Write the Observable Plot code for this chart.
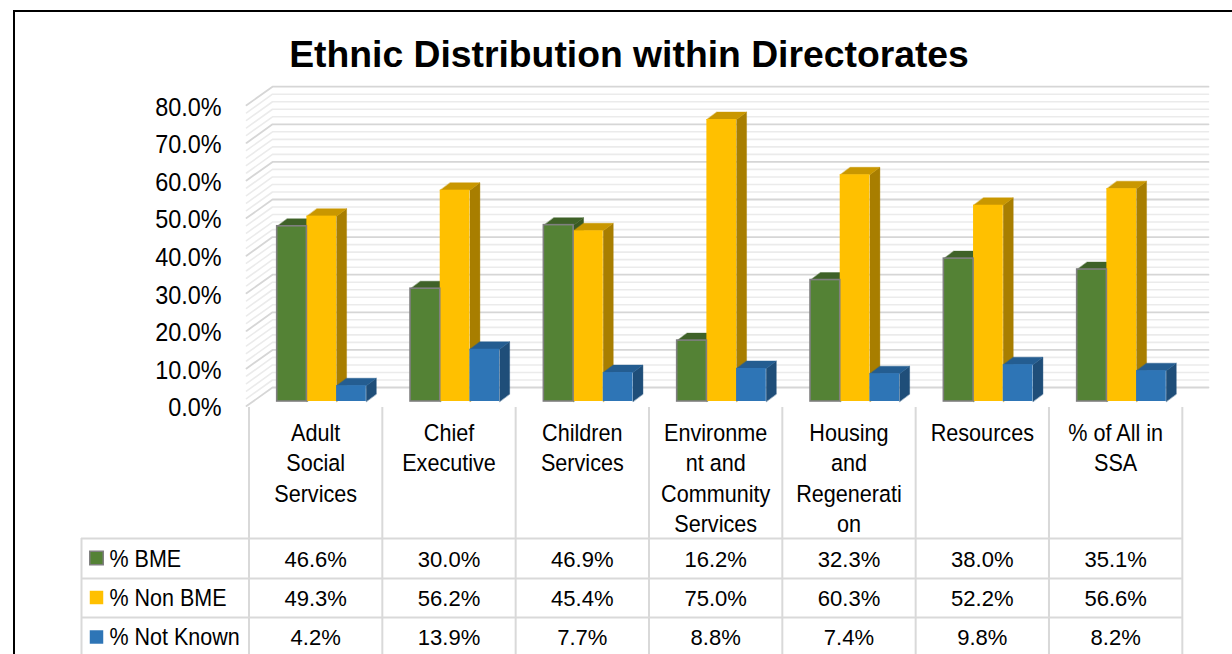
<!DOCTYPE html>
<html><head><meta charset="utf-8">
<script src="https://cdn.jsdelivr.net/npm/d3@7"></script>
<script src="https://cdn.jsdelivr.net/npm/@observablehq/plot@0.6"></script>
<style>
html,body{margin:0;padding:0;background:#fff;}
#wrap{position:relative;width:1232px;height:654px;overflow:hidden;font-family:"Liberation Sans",Arial,sans-serif;}
#frame{position:absolute;left:13px;top:10px;width:1300px;height:720px;border:2px solid #000;box-sizing:border-box;}
#title{position:absolute;left:0;top:36px;width:1258px;text-align:center;font-weight:bold;font-size:37.3px;line-height:37px;color:#000;}
#chart{position:absolute;left:0;top:80px;}
</style></head>
<body>
<div id="wrap">
  <div id="frame"></div>
  <div id="title">Ethnic Distribution within Directorates</div>
  <div id="chart"></div>
</div>
<script>
// ---------- data ----------
const categories = ["Adult Social Services","Chief Executive","Children Services","Environment and Community Services","Housing and Regeneration","Resources","% of All in SSA"];
const categoryLabels = ["Adult\nSocial\nServices","Chief\nExecutive","Children\nServices","Environme\nnt and\nCommunity\nServices","Housing\nand\nRegenerati\non","Resources","% of All in\nSSA"];
const seriesNames = ["% BME","% Non BME","% Not Known"];
const bme = [46.6, 30.0, 46.9, 16.2, 32.3, 38.0, 35.1];
const nonBme = [49.3, 56.2, 45.4, 75.0, 60.3, 52.2, 56.6];
const notKnown = [4.2, 13.9, 7.7, 8.8, 7.4, 9.8, 8.2];
const yTicks = [0, 10, 20, 30, 40, 50, 60, 70, 80];
const frontColors = ["#548235", "#FFC000", "#2E75B6"];
const topColors = ["#3f6228", "#c99700", "#245d91"];
const sideColors = ["#3a5a24", "#a87e00", "#1f4e79"];

// ---------- layout ----------
const W = 1232, H = 574, OFF = 80;          // svg starts 80px below page top
const X0 = 248.5, CW = 133.33;              // category column origin/width
const Y0 = 401 - OFF, PX = 3.76;            // svg y of 0% (bar front), px per %
const xd = px => (px - X0) / CW;            // pixel -> x data units
const yd = py => (Y0 - (py - OFF)) / PX;    // page pixel -> y data units
const BAR0 = 28.2 / CW, BW = 29.7 / CW;     // bar offset / width in x units
const dX = 10 / CW, dY = 7.5 / PX;          // 3D depth offset

const seriesValues = [bme, nonBme, notKnown];
const bars = [];
categories.forEach((c, i) => {
  seriesValues.forEach((vals, s) => {
    const x1 = i + BAR0 + s * BW;
    bars.push({cat: c, i, s, series: seriesNames[s], value: vals[i], x1, x2: x1 + BW});
  });
});

const polys = [];
bars.forEach((b, k) => {
  const {x1, x2, value: v, s} = b;
  [[x2, 0], [x2, v], [x2 + dX, v + dY], [x2 + dX, dY]].forEach(([x, y]) =>
    polys.push({id: "side" + k, x, y, color: sideColors[s]}));
  [[x1, v], [x2, v], [x2 + dX, v + dY], [x1 + dX, v + dY]].forEach(([x, y]) =>
    polys.push({id: "top" + k, x, y, color: topColors[s]}));
});

// gridlines on the 3D walls
const grid = [];
d3.range(0, 81, 2).forEach(v => {
  const major = v % 10 === 0;
  [[xd(246), v - 4.6 / PX], [xd(272), v + 14 / PX], [xd(1208), v + 14 / PX]].forEach(([x, y]) =>
    grid.push({v, major, x, y}));
});

// table
const rowCenters = [559, 598.5, 637.5].map(yd);
const swatchCenters = [557.5, 597, 636.5].map(yd);
const cells = [];
seriesValues.forEach((vals, s) => vals.forEach((v, i) =>
  cells.push({x: i + 0.5, y: rowCenters[s], text: v.toFixed(1) + "%"})));
const legendRows = seriesNames.map((n, s) => ({name: n, y: rowCenters[s], sy: swatchCenters[s], color: frontColors[s], s}));

const gridColor = "#d9d9d9";
const plot = Plot.plot({
  width: W, height: H,
  margin: 0,
  style: {fontFamily: '"Liberation Sans", Arial, sans-serif', background: "transparent", overflow: "visible", color: "#000"},
  x: {domain: [0, 7], range: [X0, X0 + 7 * CW], axis: null},
  y: {domain: [0, 80], range: [Y0, Y0 - 80 * PX], axis: null},
  color: {type: "identity"},
  marks: [
    Plot.line(grid.filter(d => !d.major), {x: "x", y: "y", z: "v", stroke: "#ebebeb", strokeWidth: 1.6}),
    Plot.line(grid.filter(d => d.major), {x: "x", y: "y", z: "v", stroke: "#d6d6d6", strokeWidth: 1.8}),
    Plot.line(polys, {x: "x", y: "y", z: "id", fill: "color", stroke: "color", strokeWidth: 0.4, curve: "linear-closed"}),
    Plot.rect(bars, {x1: "x1", x2: "x2", y1: 0, y2: "value", fill: d => frontColors[d.s]}),
    Plot.rect(bars.filter(d => d.s === 0), {x1: "x1", x2: "x2", y1: 0, y2: "value", fill: "none", stroke: "#7f7f7f", strokeWidth: 1.6}),
    // y tick labels (text group 0)
    Plot.text(yTicks, {x: xd(221), y: d => d, text: d => d.toFixed(1) + "%", textAnchor: "end", lineAnchor: "middle", dy: 6.5, fontSize: 26, fill: "#000"}),
    // table grid
    Plot.ruleX(d3.range(0, 8), {y1: yd(407), y2: yd(670), stroke: gridColor, strokeWidth: 2}),
    Plot.ruleX([xd(81)], {y1: yd(538), y2: yd(670), stroke: gridColor, strokeWidth: 2}),
    Plot.ruleY([538, 578, 617].map(yd), {x1: xd(81), x2: 7, stroke: gridColor, strokeWidth: 2}),
    // category labels (text group 1)
    Plot.text(categoryLabels, {x: (d, i) => i + 0.5, y: yd(419), text: d => d, lineAnchor: "top", lineHeight: 1.29, fontSize: 23.5, fill: "#000"}),
    // values (text group 2)
    Plot.text(cells, {x: "x", y: "y", text: "text", lineAnchor: "middle", fontSize: 22.5, fill: "#000"}),
    // legend keys
    Plot.dot(legendRows, {x: xd(96), y: "sy", symbol: "square", r: 7.6, fill: "color", stroke: d => d.s === 0 ? "#7f7f7f" : "none", strokeWidth: 1.5}),
    // legend labels (text group 3)
    Plot.text(legendRows, {x: xd(109), y: "y", text: "name", textAnchor: "start", lineAnchor: "middle", fontSize: 23, fill: "#000"})
  ]
});

// horizontally condense text groups (in mark order) to mimic the narrow source font
const textGroups = plot.querySelectorAll('g[aria-label="text"]');
const factors = [0.9, 0.92, 0.98, 0.935];
textGroups.forEach((g, k) => {
  const s = factors[k] ?? 1;
  g.querySelectorAll("text").forEach(t => {
    const tr = t.getAttribute("transform");
    if (tr) t.setAttribute("transform", tr + ` scale(${s},1)`);
  });
});
document.getElementById("chart").appendChild(plot);
</script>
</body></html>
